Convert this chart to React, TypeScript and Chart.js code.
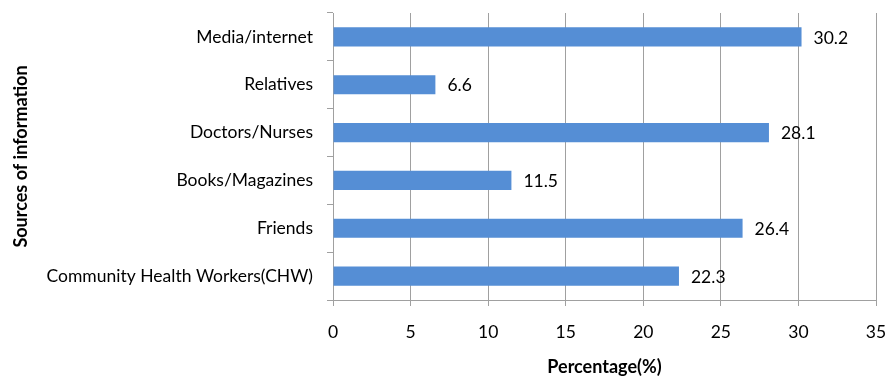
import React, { useEffect, useRef } from "react";
import { Chart, registerables } from "chart.js";

Chart.register(...registerables);

const sources = [
  "Media/internet",
  "Relatives",
  "Doctors/Nurses",
  "Books/Magazines",
  "Friends",
  "Community Health Workers(CHW)",
];
const percentages = [30.2, 6.6, 28.1, 11.5, 26.4, 22.3];
const xTicks = [0, 5, 10, 15, 20, 25, 30, 35];

const xTitle = "Percentage(%)";
const yTitle = "Sources of information";

const FONT = "Lato, 'Open Sans', sans-serif";
const GRID = "#a0a0a0";

// Value labels written just past the end of each bar
const valueLabels = {
  id: "valueLabels",
  afterDatasetsDraw(chart: any) {
    const ctx = chart.ctx;
    const meta = chart.getDatasetMeta(0);
    const data = chart.data.datasets[0].data;
    ctx.save();
    ctx.font = `17.5px ${FONT}`;
    ctx.fillStyle = "#000";
    ctx.textAlign = "left";
    ctx.textBaseline = "middle";
    meta.data.forEach((bar: any, i: number) => {
      ctx.fillText(String(data[i]), bar.x + 12, bar.y + 1);
    });
    ctx.restore();
  },
};

// Bold axis titles
const axisTitles = {
  id: "axisTitles",
  afterDraw(chart: any) {
    const { ctx, chartArea } = chart;
    ctx.save();
    ctx.font = `bold 18px ${FONT}`;
    ctx.fillStyle = "#000";
    ctx.textAlign = "center";
    ctx.textBaseline = "middle";
    ctx.fillText(xTitle, (chartArea.left + chartArea.right) / 2, 367);
    ctx.translate(21, (chartArea.top + chartArea.bottom) / 2);
    ctx.rotate(-Math.PI / 2);
    ctx.fillText(yTitle, 0, 0);
    ctx.restore();
  },
};

export default function App() {
  const ref = useRef<HTMLCanvasElement>(null);

  useEffect(() => {
    if (!ref.current) return;
    const chart = new Chart(ref.current, {
      type: "bar",
      data: {
        labels: sources,
        datasets: [
          {
            data: percentages,
            backgroundColor: "#558ED5",
            borderWidth: 0,
            barPercentage: 0.4,
            categoryPercentage: 1,
          },
        ],
      },
      options: {
        indexAxis: "y",
        responsive: false,
        animation: false,
        layout: { padding: { top: 13, right: 11, left: 0, bottom: 0 } },
        plugins: {
          legend: { display: false },
          tooltip: { enabled: false },
        },
        scales: {
          x: {
            min: xTicks[0],
            max: xTicks[xTicks.length - 1],
            afterBuildTicks(scale: any) {
              scale.ticks = xTicks.map((v) => ({ value: v }));
            },
            afterFit(scale: any) {
              scale.height = 78;
              scale.paddingLeft = 0;
              scale.paddingRight = 0;
            },
            grid: {
              color: GRID,
              lineWidth: 1,
              tickLength: 6,
              drawTicks: true,
            },
            border: { display: true, color: GRID, width: 1 },
            ticks: {
              color: "#000",
              padding: 16,
              font: { family: FONT, size: 17.5 },
            },
          },
          y: {
            afterFit(scale: any) {
              scale.width = 333;
              scale.paddingTop = 0;
              scale.paddingBottom = 0;
            },
            grid: {
              offset: true,
              drawOnChartArea: false,
              color: GRID,
              tickLength: 6,
            },
            border: { display: true, color: GRID, width: 1 },
            ticks: {
              color: "#000",
              padding: 14,
              font: { family: FONT, size: 17.5 },
            },
          },
        },
      },
      plugins: [valueLabels, axisTitles],
    });
    return () => chart.destroy();
  }, []);

  return (
    <div style={{ position: "fixed", left: 0, top: 0, width: 887, height: 378, background: "#fff" }}>
      <canvas ref={ref} width={887} height={378} />
    </div>
  );
}
